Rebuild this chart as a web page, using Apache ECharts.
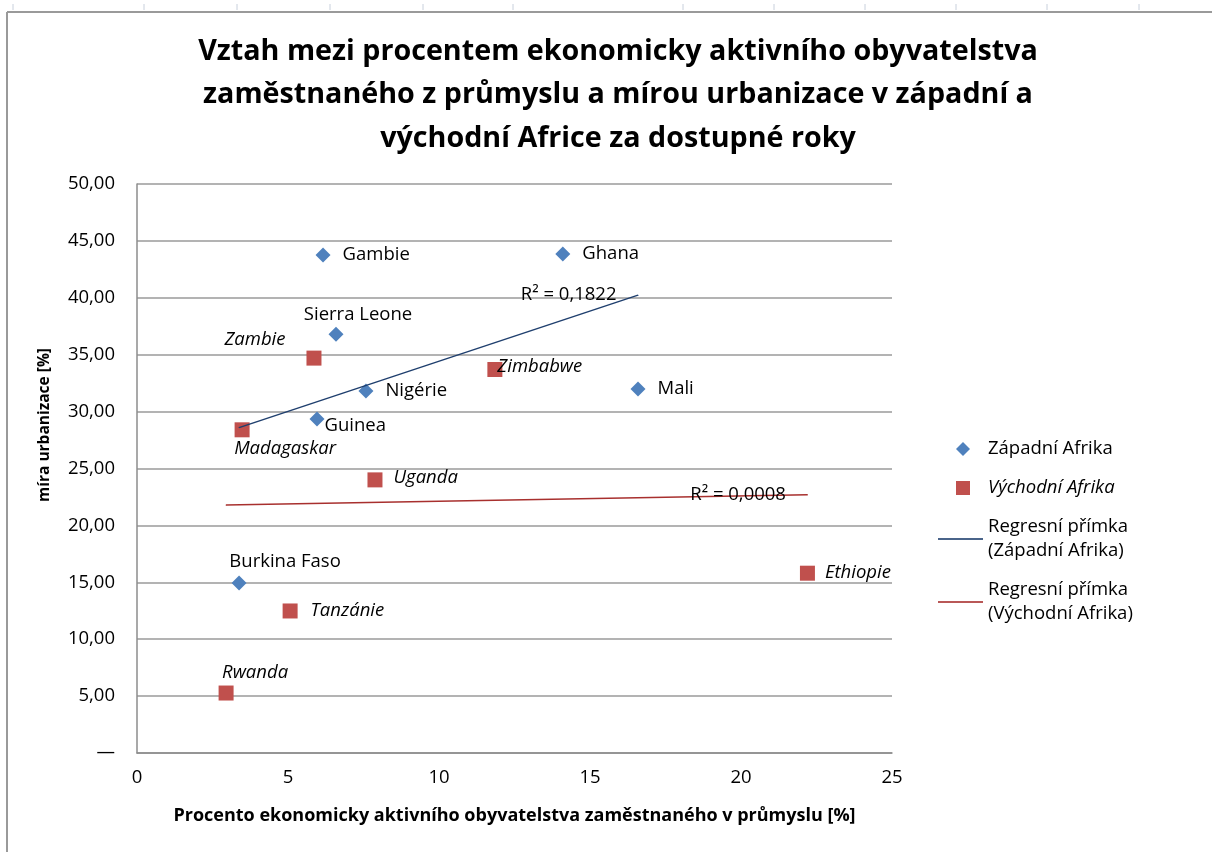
<!DOCTYPE html>
<html>
<head>
<meta charset="utf-8">
<script src="https://cdn.jsdelivr.net/npm/echarts@6/dist/echarts.min.js"></script>
<style>
  html, body { margin: 0; padding: 0; background: #fff; }
  #chart { width: 1212px; height: 852px; }
</style>
</head>
<body>
<div id="chart"></div>
<script>
// data
const westNames = ['Gambie', 'Ghana', 'Sierra Leone', 'Nigérie', 'Mali', 'Guinea', 'Burkina Faso'];
const westX = [6.16, 14.1, 6.59, 7.58, 16.59, 5.96, 3.38];
const westY = [43.76, 43.85, 36.8, 31.8, 31.99, 29.35, 14.94];

const eastNames = ['Zambie', 'Zimbabwe', 'Madagaskar', 'Uganda', 'Ethiopie', 'Tanzánie', 'Rwanda'];
const eastX = [5.86, 11.85, 3.48, 7.88, 22.2, 5.07, 2.95];
const eastY = [34.7, 33.7, 28.4, 24.0, 15.8, 12.48, 5.27];

const r2Labels = ['R² = 0,1822', 'R² = 0,0008'];
const xTicks = [0, 5, 10, 15, 20, 25];

const FONT = '"Open Sans", "DejaVu Sans", sans-serif';
const FS = 18.5;
const BLUE = '#4F81BD', RED = '#C0504D', NAVY = '#1F3F6E', DARKRED = '#A8302E';

// kde stojí popisky bodů (jen vzhled)
const labelPlace = {
  'Gambie': { position: 'right', distance: 12 },
  'Ghana': { position: 'right', distance: 12 },
  'Sierra Leone': { position: 'top', distance: 2, offset: [22, 0] },
  'Nigérie': { position: 'right', distance: 12 },
  'Mali': { position: 'right', distance: 12 },
  'Guinea': { position: 'right', distance: 0, offset: [0, 7] },
  'Burkina Faso': { position: 'top', distance: 4, offset: [46, 0] },
  'Zambie': { position: 'top', distance: 1, offset: [-59, 0] },
  'Zimbabwe': { position: 'right', distance: -5, offset: [0, -3] },
  'Madagaskar': { position: 'bottom', distance: 2, offset: [43, 0] },
  'Uganda': { position: 'right', distance: 11, offset: [0, -2] },
  'Ethiopie': { position: 'right', distance: 10 },
  'Tanzánie': { position: 'right', distance: 13 },
  'Rwanda': { position: 'top', distance: 3, offset: [29, 0] }
};

// lineární regrese (trendová přímka jako v Excelu)
const fit = (xs, ys) => {
  const n = xs.length;
  const mx = xs.reduce((a, b) => a + b, 0) / n;
  const my = ys.reduce((a, b) => a + b, 0) / n;
  let sxy = 0, sxx = 0;
  xs.forEach((x, i) => { sxy += (x - mx) * (ys[i] - my); sxx += (x - mx) * (x - mx); });
  const k = sxy / sxx;
  const q = my - k * mx;
  const x0 = Math.min(...xs), x1 = Math.max(...xs);
  return [[x0, q + k * x0], [x1, q + k * x1]];
};

const points = (names, xs, ys) => names.map((name, i) => ({
  name,
  value: [xs[i], ys[i]],
  label: labelPlace[name]
}));

// ikonky legendy jako malé svg obrázky, ať se nedeformují
const svgIcon = body => 'image://data:image/svg+xml;utf8,' + encodeURIComponent(
  '<svg xmlns="http://www.w3.org/2000/svg" width="45" height="14" viewBox="0 0 45 14">' + body + '</svg>');
const iconDiamond = svgIcon('<path d="M25 0 L32 7 L25 14 L18 7 Z" fill="' + BLUE + '"/>');
const iconRect = svgIcon('<rect x="18" y="0" width="14" height="14" fill="' + RED + '"/>');
const iconLine = c => svgIcon('<rect x="0" y="6.2" width="45" height="1.6" fill="' + c + '"/>');

const regLabel = text => ({
  show: true, position: 'left', distance: 21, formatter: text,
  fontSize: FS, color: '#000', fontFamily: FONT
});

const chart = echarts.init(document.getElementById('chart'));

const option = {
  animation: false,
  textStyle: { fontFamily: FONT },
  title: {
    text: 'Vztah mezi procentem ekonomicky aktivního obyvatelstva\nzaměstnaného z průmyslu a mírou urbanizace v západní a\nvýchodní Africe za dostupné roky',
    left: 613,
    top: 25,
    textAlign: 'center',
    textStyle: { fontFamily: FONT, fontSize: 28.7, fontWeight: 'bold', color: '#000', lineHeight: 43.5 }
  },
  grid: { left: 137, right: 320, top: 184, bottom: 99 },
  legend: {
    orient: 'vertical',
    left: 933,
    top: 432,
    itemGap: 15,
    itemWidth: 45,
    itemHeight: 14,
    textStyle: {
      fontFamily: FONT, fontSize: FS, color: '#000', lineHeight: 24,
      rich: { i: { fontFamily: FONT, fontSize: FS, fontStyle: 'italic', color: '#000' } }
    },
    formatter: name => name === 'Východní Afrika' ? '{i|' + name + '}' : name,
    data: [
      { name: 'Západní Afrika', icon: iconDiamond },
      { name: 'Východní Afrika', icon: iconRect },
      { name: 'Regresní přímka\n(Západní Afrika)', icon: iconLine(NAVY) },
      { name: 'Regresní přímka\n(Východní Afrika)', icon: iconLine(DARKRED) }
    ]
  },
  xAxis: {
    type: 'value',
    min: 0,
    max: 25,
    interval: 5,
    name: 'Procento ekonomicky aktivního obyvatelstva zaměstnaného v průmyslu [%]',
    nameLocation: 'middle',
    nameGap: 54,
    nameTextStyle: { fontFamily: FONT, fontSize: 18, fontWeight: 'bold', color: '#000' },
    axisLine: { show: true, lineStyle: { color: '#8c8c8c', width: 1.5 } },
    axisTick: { show: false },
    splitLine: { show: false },
    axisLabel: {
      fontSize: FS, color: '#000', margin: 15, fontFamily: FONT,
      formatter: v => xTicks.includes(v) ? String(v) : ''
    }
  },
  yAxis: {
    type: 'value',
    min: 0,
    max: 50,
    interval: 5,
    axisLine: { show: true, lineStyle: { color: '#8c8c8c', width: 1.5 } },
    axisTick: { show: false },
    splitLine: { lineStyle: { color: '#9a9a9a', width: 1.5 } },
    axisLabel: {
      fontSize: FS, color: '#000', margin: 22, fontFamily: FONT,
      formatter: v => v === 0 ? '—' : v.toFixed(2).replace('.', ',')
    }
  },
  series: [
    {
      name: 'Západní Afrika',
      type: 'scatter',
      symbol: 'diamond',
      symbolSize: 15,
      itemStyle: { color: BLUE, opacity: 1 },
      label: { show: true, formatter: '{b}', fontSize: FS, color: '#000', fontFamily: FONT },
      data: points(westNames, westX, westY),
      z: 2
    },
    {
      name: 'Východní Afrika',
      type: 'scatter',
      symbol: 'rect',
      symbolSize: 15,
      itemStyle: { color: RED, opacity: 1 },
      label: { show: true, formatter: '{b}', fontSize: FS, color: '#000', fontStyle: 'italic', fontFamily: FONT },
      data: points(eastNames, eastX, eastY),
      z: 2
    },
    {
      name: 'Regresní přímka\n(Západní Afrika)',
      type: 'line',
      symbol: 'circle',
      symbolSize: 1,
      showSymbol: true,
      lineStyle: { color: NAVY, width: 1.5 },
      itemStyle: { color: NAVY },
      data: fit(westX, westY).map((p, i) => ({
        value: p,
        label: i === 1 ? regLabel(r2Labels[0]) : { show: false }
      })),
      z: 5
    },
    {
      name: 'Regresní přímka\n(Východní Afrika)',
      type: 'line',
      symbol: 'circle',
      symbolSize: 1,
      showSymbol: true,
      lineStyle: { color: DARKRED, width: 1.5 },
      itemStyle: { color: DARKRED },
      data: fit(eastX, eastY).map((p, i) => ({
        value: p,
        label: i === 1 ? regLabel(r2Labels[1]) : { show: false }
      })),
      z: 5
    }
  ],
  graphic: [
    // rámeček grafu a okraj listu nad ním
    { type: 'line', shape: { x1: 7, y1: 12, x2: 1212, y2: 12 }, style: { stroke: '#9a9a9a', lineWidth: 2 } },
    { type: 'line', shape: { x1: 7, y1: 12, x2: 7, y2: 852 }, style: { stroke: '#9a9a9a', lineWidth: 2 } },
    ...[13, 144, 237, 330, 423, 513, 683, 774, 865, 956, 1047, 1139].map(x => ({
      type: 'line', shape: { x1: x, y1: 4, x2: x, y2: 10 }, style: { stroke: '#c8d0dc', lineWidth: 1 }
    })),
    {
      type: 'text',
      x: 45,
      y: 425,
      rotation: Math.PI / 2,
      style: {
        text: 'míra urbanizace [%]',
        font: 'bold 15.5px ' + FONT,
        fill: '#000',
        align: 'center',
        verticalAlign: 'middle'
      }
    }
  ]
};

chart.setOption(option);
</script>
</body>
</html>
